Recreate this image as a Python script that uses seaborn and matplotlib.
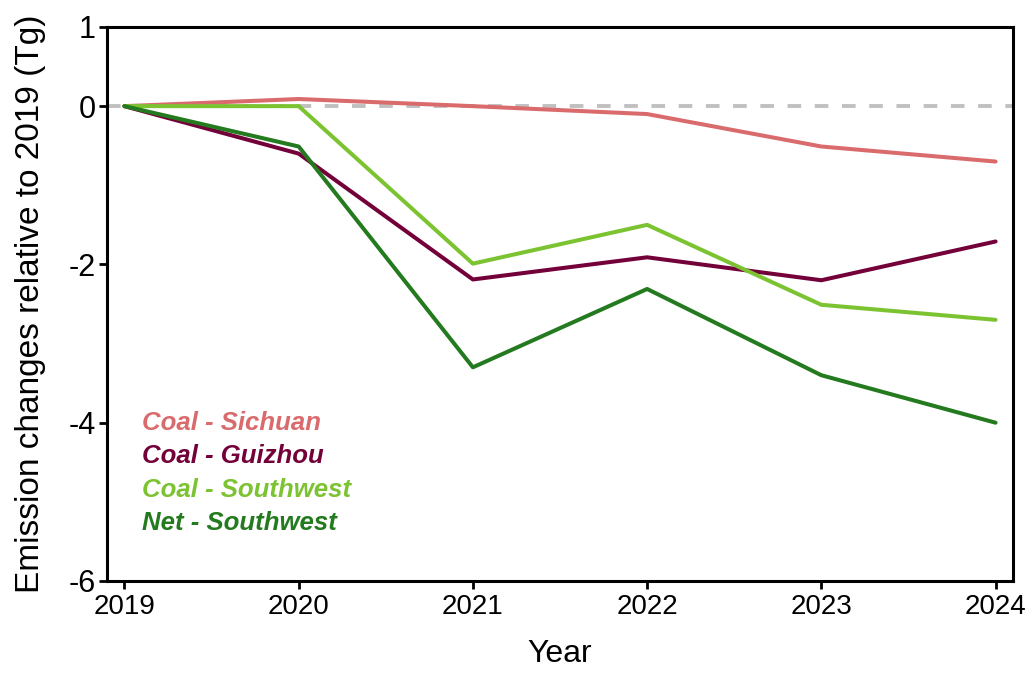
import pandas as pd
import matplotlib.pyplot as plt
import seaborn as sns

# Emission changes relative to 2019 (Tg)
years = [2019, 2020, 2021, 2022, 2023, 2024]
coal_sichuan = [0.0, 0.09, 0.0, -0.10, -0.51, -0.70]
coal_guizhou = [0.0, -0.60, -2.19, -1.91, -2.20, -1.71]
coal_southwest = [0.0, 0.0, -1.99, -1.50, -2.51, -2.70]
net_southwest = [0.0, -0.51, -3.30, -2.31, -3.40, -4.00]

series_names = ['Coal - Sichuan', 'Coal - Guizhou', 'Coal - Southwest', 'Net - Southwest']
series_colors = ['#DA6B6D', '#74003A', '#7CC332', '#247A1E']

df = pd.DataFrame({
    'Year': years * 4,
    'value': coal_sichuan + coal_guizhou + coal_southwest + net_southwest,
    'series': [n for n in series_names for _ in years],
})

sns.set_style('white')
plt.rcParams['font.family'] = ['Liberation Sans', 'DejaVu Sans']
plt.rcParams['axes.unicode_minus'] = False
plt.rcParams['text.color'] = 'black'
plt.rcParams['axes.labelcolor'] = 'black'
plt.rcParams['xtick.color'] = 'black'
plt.rcParams['ytick.color'] = 'black'

fig = plt.figure(figsize=(10.34, 6.75), dpi=100)
ax = fig.add_axes([107 / 1034, 1 - 581 / 675, 906 / 1034, 554 / 675])

# zero reference line
ax.axhline(0, color='#C0C0C0', lw=2.8, ls=(0, (3.5, 3.5)), zorder=1)

sns.lineplot(data=df, x='Year', y='value', hue='series', hue_order=series_names,
             palette=series_colors, lw=2.9, legend=False, ax=ax, zorder=3)

ax.set_xlim(2018.9, 2024.1)
ax.set_ylim(-6, 1)
ax.set_xticks(years)
ax.set_yticks([1, 0, -2, -4, -6])
ax.tick_params(axis='both', direction='out', length=6, width=2, color='black',
               bottom=True, left=True)
ax.tick_params(axis='y', labelsize=22, pad=2)
ax.tick_params(axis='x', labelsize=20, pad=3)
for spine in ax.spines.values():
    spine.set_linewidth(2.2)
    spine.set_color('black')

ax.set_xlabel('Year', fontsize=23, labelpad=14)
ax.set_ylabel('Emission changes relative to 2019 (Tg)', fontsize=24, labelpad=16)

# colored text legend
for i, (name, col) in enumerate(zip(series_names, series_colors)):
    ax.text(0.039, 0.285 - i * 0.06, name, transform=ax.transAxes, color=col,
            fontsize=18.5, fontweight='bold', fontstyle='italic', va='center', ha='left')

fig.savefig('out.png', dpi=100)
